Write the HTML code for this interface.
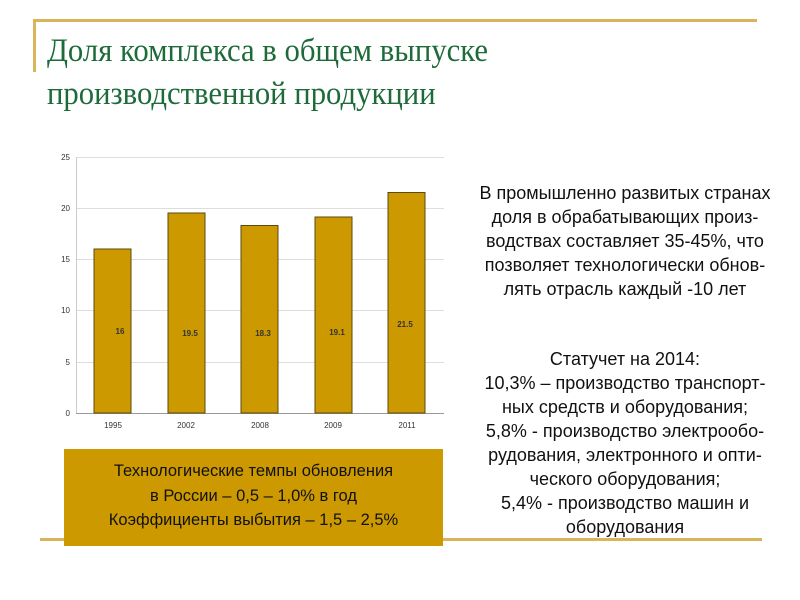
<!DOCTYPE html>
<html><head><meta charset="utf-8"><style>
body{margin:0;width:800px;height:600px;background:#fff;position:relative;overflow:hidden;font-family:"Liberation Sans",sans-serif}
.t{position:absolute;left:47px;font-family:"Liberation Serif",serif;color:#1e6b3a;font-size:33px;white-space:nowrap;transform:scaleX(0.93);transform-origin:0 0}
.r{position:absolute;left:445px;width:360px;text-align:center;font-size:18px;color:#111;white-space:nowrap}
.b{position:absolute;left:64px;width:379px;text-align:center;font-size:16.5px;color:#111;white-space:nowrap}
</style></head><body>
<div style="position:absolute;left:33px;top:19px;width:724px;height:3px;background:#d9b45a"></div>
<div style="position:absolute;left:33px;top:19px;width:3px;height:53px;background:#d9b45a"></div>
<div class="t" style="top:33px">Доля комплекса в общем выпуске</div>
<div class="t" style="top:76px">производственной продукции</div>
<svg style="position:absolute;left:0;top:0" width="800" height="600">
<g stroke="#ddd" stroke-width="1">
<line x1="76" y1="157.5" x2="444" y2="157.5"/><line x1="76" y1="208.5" x2="444" y2="208.5"/>
<line x1="76" y1="259.5" x2="444" y2="259.5"/><line x1="76" y1="310.5" x2="444" y2="310.5"/>
<line x1="76" y1="362.5" x2="444" y2="362.5"/></g>
<line x1="76" y1="413.5" x2="444" y2="413.5" stroke="#999"/>
<line x1="76.5" y1="157" x2="76.5" y2="413" stroke="#ccc"/>
<g fill="#cc9900" stroke="#5a4a10" stroke-width="1">
<rect x="94" y="249" width="37" height="164"/>
<rect x="168" y="213" width="37" height="200"/>
<rect x="241" y="225.5" width="37" height="187.5"/>
<rect x="315" y="217" width="37" height="196"/>
<rect x="388" y="192.5" width="37" height="220.5"/>
</g>
<g font-size="8" font-weight="bold" fill="#333" text-anchor="middle" font-family="Liberation Sans">
<text x="120" y="334">16</text><text x="190" y="336">19.5</text><text x="263" y="336">18.3</text>
<text x="337" y="335">19.1</text><text x="405" y="327">21.5</text></g>
<g font-size="8" fill="#333" text-anchor="end" font-family="Liberation Sans">
<text x="70" y="160">25</text><text x="70" y="211">20</text><text x="70" y="262">15</text>
<text x="70" y="313">10</text><text x="70" y="365">5</text><text x="70" y="416">0</text></g>
<g font-size="8" fill="#333" text-anchor="middle" font-family="Liberation Sans">
<text x="113" y="428">1995</text><text x="186" y="428">2002</text><text x="260" y="428">2008</text>
<text x="333" y="428">2009</text><text x="407" y="428">2011</text></g>
</svg>
<div style="position:absolute;left:40px;top:538px;width:722px;height:3px;background:#d9b45a"></div>
<div style="position:absolute;left:64px;top:449px;width:379px;height:97px;background:#cc9900"></div>
<div class="b" style="top:462px">Технологические темпы обновления</div>
<div class="b" style="top:487px">в России – 0,5 – 1,0% в год</div>
<div class="b" style="top:511px">Коэффициенты выбытия – 1,5 – 2,5%</div>
<div class="r" style="top:183px">В промышленно развитых странах</div>
<div class="r" style="top:207px">доля в обрабатывающих произ-</div>
<div class="r" style="top:231px">водствах составляет 35-45%, что</div>
<div class="r" style="top:255px">позволяет технологически обнов-</div>
<div class="r" style="top:279px">лять отрасль каждый -10 лет</div>
<div class="r" style="top:349px">Статучет на 2014:</div>
<div class="r" style="top:373px">10,3% – производство транспорт-</div>
<div class="r" style="top:397px">ных средств и оборудования;</div>
<div class="r" style="top:421px">5,8% - производство электрообо-</div>
<div class="r" style="top:445px">рудования, электронного и опти-</div>
<div class="r" style="top:469px">ческого оборудования;</div>
<div class="r" style="top:493px">5,4% - производство машин и</div>
<div class="r" style="top:517px">оборудования</div>
</body></html>
